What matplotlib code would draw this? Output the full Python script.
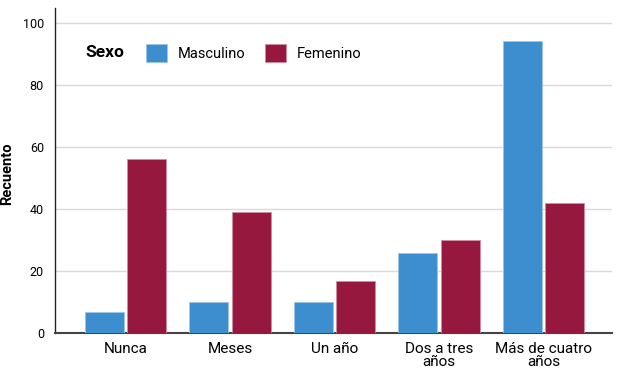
import numpy as np
import matplotlib.pyplot as plt

plt.rcParams['font.family'] = ['Roboto', 'DejaVu Sans']

categorias = ['Nunca', 'Meses', 'Un año', 'Dos a tres\naños', 'Más de cuatro\naños']
masculino = [7, 10, 10, 26, 94]
femenino = [56, 39, 17, 30, 42]

azul = '#3d8ecf'
granate = '#96183e'

fig = plt.figure(figsize=(6.4, 3.75), dpi=100)
ax = fig.add_axes([0.086, 0.111, 0.870, 0.868])

x = np.arange(len(categorias))
w = 0.375
ax.bar(x - w/2 - 0.015, masculino, w, color=azul, edgecolor='#9cc6e8', linewidth=0.6,
       label='Masculino', zorder=3)
ax.bar(x + w/2 + 0.015, femenino, w, color=granate, edgecolor='#d48aa0', linewidth=0.6,
       label='Femenino', zorder=3)

ax.set_xlim(-0.675, 4.655)
ax.set_ylim(0, 104.8)
ax.set_yticks([0, 20, 40, 60, 80, 100])
ax.yaxis.grid(True, color='#d9d9d9', linewidth=1, zorder=0)
ax.set_xticks(x)
ax.set_xticklabels(categorias, fontsize=11, linespacing=0.95)
ax.tick_params(axis='x', length=0, pad=6)
ax.tick_params(axis='y', length=0, labelsize=9, pad=8)

for s in ['top', 'right']:
    ax.spines[s].set_visible(False)
ax.spines['left'].set_color('#222222')
ax.spines['left'].set_linewidth(1)
ax.spines['bottom'].set_color('#444444')
ax.spines['bottom'].set_linewidth(1.5)

ax.set_ylabel('Recuento', fontsize=10.5, fontweight='bold')
ax.yaxis.set_label_coords(-0.074, 0.49)

fig.text(0.133, 0.859, 'Sexo', fontsize=12.5, fontweight='bold', va='center', ha='left')
fig.legend(loc='center left', bbox_to_anchor=(0.228, 0.859), ncol=2, frameon=False,
           fontsize=10.5, handlelength=1.45, handleheight=1.45, handletextpad=0.7,
           columnspacing=1.4, borderpad=0, borderaxespad=0)

fig.savefig('out.png', dpi=100)
